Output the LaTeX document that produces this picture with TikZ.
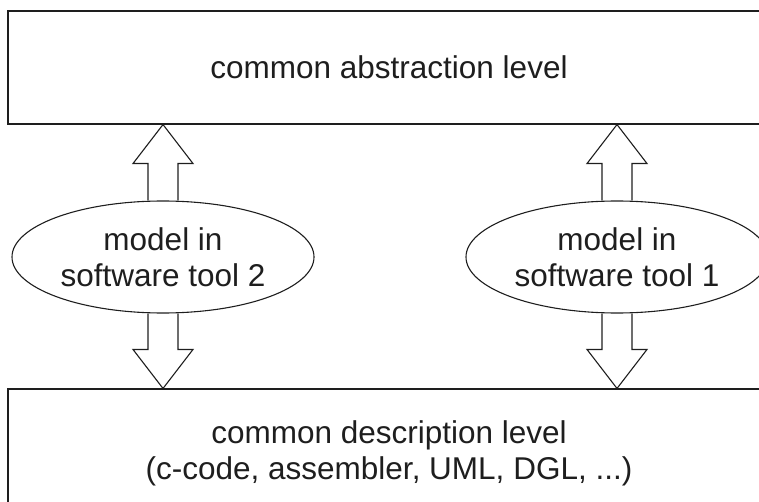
\documentclass[tikz,border=0pt]{standalone}
\usepackage{fontspec}
\setmainfont{Liberation Sans}
\usetikzlibrary{shapes.geometric,calc}
\definecolor{ink}{HTML}{1E1E1E}
\tikzset{
  x=1pt,y=1pt,
  every node/.style={font=\fontsize{31.5}{36}\selectfont, text=ink},
  levelbox/.style={draw=ink, line width=1.1pt, rectangle, inner sep=0pt, minimum width=762pt, align=center},
  levtext/.style={align=center, inner sep=0pt},
  toolell/.style={draw=ink, line width=1.1pt, ellipse, inner sep=0pt, minimum width=302pt, minimum height=112pt, align=center},
  fat/.style={draw=ink, line width=1.1pt, line join=miter}
}
\begin{document}
\begin{tikzpicture}
\useasboundingbox (0,0) rectangle (759,501);
\clip (0,0) rectangle (759,501);
\node[levelbox, minimum height=113pt] (top) at (389,433.5) {common abstraction level};
\node[levelbox, minimum height=140pt] (bot) at (389,42) {};
\node[levtext] (bottext) at (389,48) {common description level\\(c-code, assembler, UML, DGL, ...)};
\node[toolell] (t2) at (163,244) {model in\\software tool 2};
\node[toolell] (t1) at (617,244) {model in\\software tool 1};
\foreach \e in {t2,t1}{
  \draw[fat] let \p1=(\e.north), \p2=(top.south -| \e.north) in
    (\x1-15pt,\y1) -- (\x1-15pt,\y2-39pt) -- (\x1-30pt,\y2-39pt) -- (\x2,\y2)
    -- (\x1+30pt,\y2-39pt) -- (\x1+15pt,\y2-39pt) -- (\x1+15pt,\y1);
  \draw[fat] let \p1=(\e.south), \p2=(bot.north -| \e.south) in
    (\x1-15pt,\y1) -- (\x1-15pt,\y2+39pt) -- (\x1-30pt,\y2+39pt) -- (\x2,\y2)
    -- (\x1+30pt,\y2+39pt) -- (\x1+15pt,\y2+39pt) -- (\x1+15pt,\y1);
}
\end{tikzpicture}
\end{document}
